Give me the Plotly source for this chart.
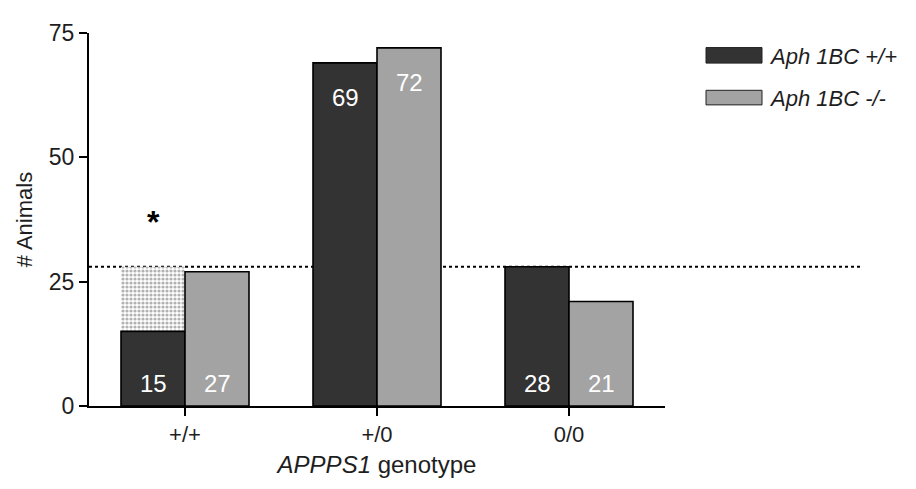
import plotly.graph_objects as go

categories = ["+/+", "+/0", "0/0"]
series_names = ["Aph 1BC +/+", "Aph 1BC -/-"]
aph_wt = [15, 69, 28]
aph_ko = [27, 72, 21]
expected = 28
y_ticks = [0, 25, 50, 75]

dark = "#333333"
light = "#a3a3a3"
txt = "#1e1e1e"
FONT = "Liberation Sans, Arial, sans-serif"

# page has an 8px body margin; compensate so the plot lands where the reference has it
OFF = 8
L, T, W, H = 89 - OFF, 22 - OFF, 576, 384

fig = go.Figure()
# stippled "missing" portion
fig.add_trace(go.Bar(
    x=[categories[0]], y=[expected - aph_wt[0]], base=[aph_wt[0]],
    offsetgroup="wt", showlegend=False, hoverinfo="skip",
    marker=dict(color="white", line=dict(width=0),
                pattern=dict(shape=".", fgcolor="#666666", bgcolor="white",
                             size=4, solidity=0.5)),
))
fig.add_trace(go.Bar(x=categories, y=aph_wt, offsetgroup="wt", name=series_names[0],
                     marker=dict(color=dark, line=dict(color="black", width=1.6)),
                     showlegend=False))
fig.add_trace(go.Bar(x=categories, y=aph_ko, offsetgroup="ko", name=series_names[1],
                     marker=dict(color=light, line=dict(color="black", width=1.6)),
                     showlegend=False))

# value labels
for i, c in enumerate(categories):
    for v, xs in ((aph_wt[i], -32), (aph_ko[i], 32)):
        if v > 50:
            fig.add_annotation(x=c, y=v, xshift=xs, yshift=-35, text=str(v), showarrow=False,
                               font=dict(family=FONT, size=24, color="white"), yanchor="middle")
        else:
            fig.add_annotation(x=c, y=0, xshift=xs, yshift=23, text=str(v), showarrow=False,
                               font=dict(family=FONT, size=24, color="white"), yanchor="middle")

# asterisk
fig.add_annotation(x=categories[0], y=37.0, xshift=-32, text="<b>*</b>", showarrow=False,
                   font=dict(family=FONT, size=32, color="black"), yanchor="middle")

# expected line
fig.add_shape(type="line", xref="paper", yref="y", x0=0, x1=(860 - 89) / W, y0=expected, y1=expected,
              line=dict(color="black", width=2, dash="dot"), layer="below")

# manual legend (reference pixel coords -> paper coords)
def px_x(p):
    return (p - 89) / W

def px_y(p):
    return (406 - p) / H

for (y0, y1, col, name) in ((37, 53, dark, series_names[0]), (81, 96, light, series_names[1])):
    fig.add_shape(type="rect", xref="paper", yref="paper", x0=px_x(706), x1=px_x(762),
                  y0=px_y(y1), y1=px_y(y0), fillcolor=col, line=dict(color="#222", width=1))
    fig.add_annotation(xref="paper", yref="paper", x=px_x(767), y=px_y((y0 + y1) / 2 + 1),
                       text="<i>" + name + "</i>",
                       showarrow=False, xanchor="left", yanchor="middle",
                       font=dict(family=FONT, size=22, color=txt))

fig.update_layout(
    width=916, height=489,
    margin=dict(l=L, r=916 - L - W, t=T, b=489 - T - H),
    paper_bgcolor="white", plot_bgcolor="white",
    barmode="group", bargap=1/3, bargroupgap=0,
    font=dict(family=FONT, color=txt),
    showlegend=False,
)
fig.update_xaxes(range=[-0.5, 2.5], showline=True, linecolor="black", linewidth=2,
                 ticks="outside", ticklen=8, tickwidth=2, tickcolor="black",
                 tickfont=dict(size=22, color=txt), showgrid=False, zeroline=False,
                 title=dict(text="<i>APPPS1</i> genotype", font=dict(size=24, color=txt), standoff=10))
fig.update_yaxes(range=[0, 75], tickvals=y_ticks, showline=True, linecolor="black", linewidth=2,
                 ticks="outside", ticklen=8, tickwidth=2, tickcolor="black",
                 tickfont=dict(size=23, color=txt), showgrid=False, zeroline=False,
                 title=dict(text="# Animals", font=dict(size=22, color=txt), standoff=10))

fig.write_html("out.html")
